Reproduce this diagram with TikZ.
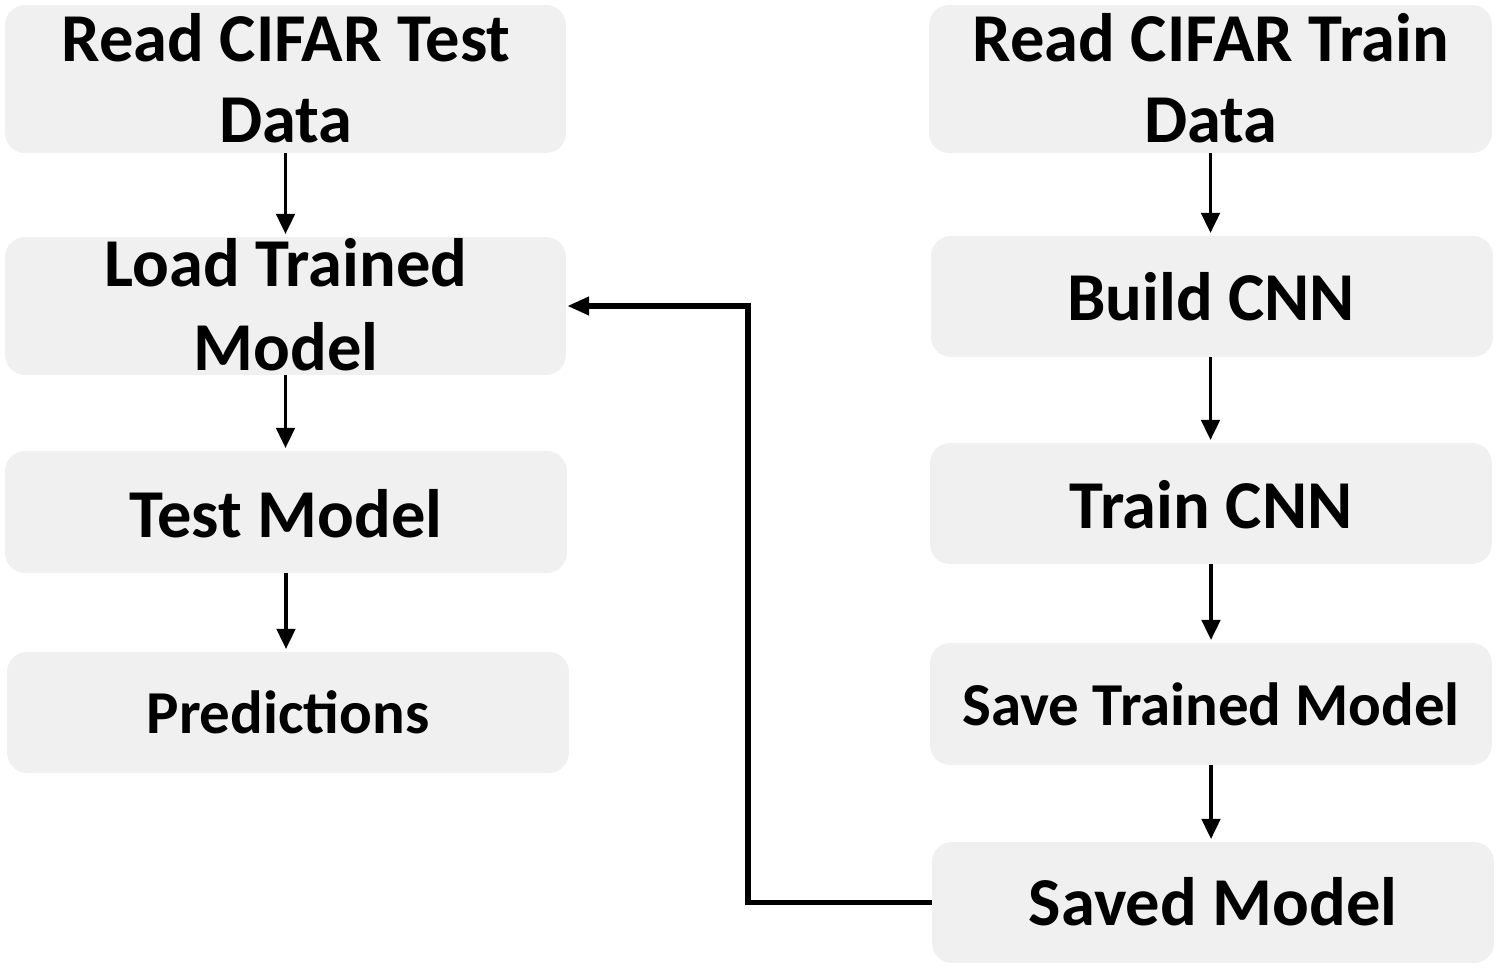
\documentclass[tikz,border=0pt]{standalone}
\usepackage{fontspec}
\setmainfont{Carlito}
\usetikzlibrary{arrows.meta}
\definecolor{boxgray}{RGB}{240,240,240}
\tikzset{
  box/.style={fill=boxgray, draw=none, rounded corners=0.4cm, inner sep=0pt},
  lbl/.style={anchor=base, inner sep=0pt, font=\bfseries\fontsize{39}{47}\selectfont},
  lbls/.style={anchor=base, inner sep=0pt, font=\bfseries\fontsize{34.7}{42}\selectfont},
  flow/.style={line width=2.1pt, -{Triangle[width=10.5pt,length=11.5pt]}, shorten >=1.5pt},
  back/.style={line width=3.1pt, -{Triangle[width=10pt,length=12.5pt]}, shorten >=0.5pt},
}
\begin{document}
\begin{tikzpicture}[x=0.02cm,y=-0.02cm]
\useasboundingbox (0,0) rectangle (1500,969);
% left column boxes
\node[box, minimum width=11.22cm, minimum height=2.96cm] (L1) at (285.5,79) {};
\node[box, minimum width=11.22cm, minimum height=2.76cm] (L2) at (285.5,306) {};
\node[box, minimum width=11.24cm, minimum height=2.44cm] (L3) at (286,512) {};
\node[box, minimum width=11.24cm, minimum height=2.42cm] (L4) at (288,712.5) {};
% right column boxes
\node[box, minimum width=11.26cm, minimum height=2.96cm] (R1) at (1210.5,79) {};
\node[box, minimum width=11.24cm, minimum height=2.42cm] (R2) at (1212,296.5) {};
\node[box, minimum width=11.24cm, minimum height=2.42cm] (R3) at (1211,503.5) {};
\node[box, minimum width=11.24cm, minimum height=2.44cm] (R4) at (1211,704) {};
\node[box, minimum width=11.24cm, minimum height=2.42cm] (R5) at (1213,902.5) {};
% texts
\node[lbl] (tL1a) at (286,62) {Read CIFAR Test};
\node[lbl] (tL1b) at (286,143) {Data};
\node[lbl] (tL2a) at (286,287) {Load Trained};
\node[lbl] (tL2b) at (286,370) {Model};
\node[lbl] (tL3) at (286,537) {Test Model};
\node[lbls] (tL4) at (288,733) {Predictions};
\node[lbl] (tR1a) at (1211,62) {Read CIFAR Train};
\node[lbl] (tR1b) at (1211,143) {Data};
\node[lbl] (tR2) at (1211,320) {Build CNN};
\node[lbl] (tR3) at (1211,528) {Train CNN};
\node[lbls] (tR4) at (1211,725) {Save Trained Model};
\node[lbl] (tR5) at (1213,925) {Saved Model};
% arrows
\draw[flow] (L1.south) -- (L1.south |- L2.north);
\draw[flow] (L2.south) -- (L2.south |- L3.north);
\draw[flow] (L3.south) -- (L3.south |- L4.north);
\draw[flow] (R1.south) -- (R1.south |- R2.north);
\draw[flow] (R2.south -| R1.south) -- (R1.south |- R3.north);
\draw[flow] (R3.south) -- (R3.south |- R4.north);
\draw[flow] (R4.south) -- (R4.south |- R5.north);
\coordinate (elb) at (748,902.5);
\draw[back] (R5.west) -- (elb) |- (L2.east);
\end{tikzpicture}
\end{document}
